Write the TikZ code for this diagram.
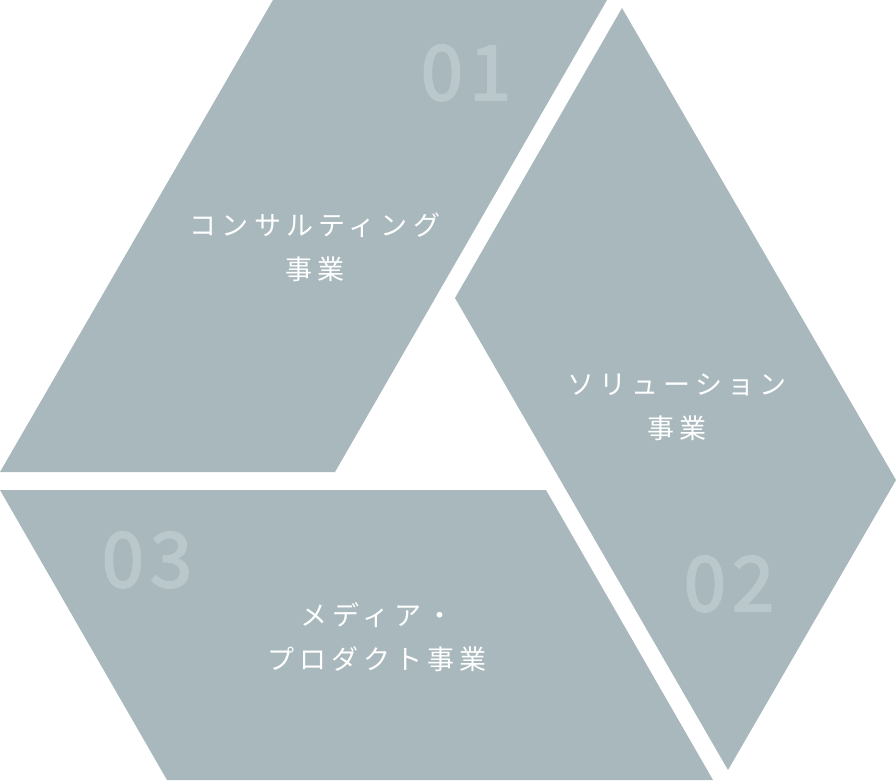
\documentclass[tikz,border=0pt]{standalone}
\usepackage{fontspec}
\newfontfamily\jpfont[LetterSpace=19]{Noto Sans CJK JP}
\newfontfamily\numfont[FakeBold=2.5,LetterSpace=8]{Noto Sans CJK JP}
\definecolor{panel}{HTML}{A8B8BC}
\definecolor{numc}{HTML}{BAC8CB}
\begin{document}
\begin{tikzpicture}[x=1pt,y=-1pt,
  panelst/.style={fill=panel,draw=none},
  lab/.style={text=white,align=center,inner sep=0pt,font=\jpfont\fontsize{27}{44}\selectfont},
  numst/.style={text=numc,anchor=base,inner sep=0pt,font=\numfont\fontsize{76}{76}\selectfont}]
\useasboundingbox (0,0) rectangle (896,780);
\fill[panelst] (273,0) -- (607,0) -- (335,472) -- (0,472) -- cycle;
\fill[panelst] (622,8) -- (896,480) -- (728,770) -- (455,298) -- cycle;
\fill[panelst] (0,490) -- (546,490) -- (713,780) -- (167,780) -- cycle;
\node[numst] (n1) at (466,100) {01};
\node[numst] (n2) at (729,611) {02};
\node[numst] (n3) at (147,587) {03};
\node[lab] (t1) at (315,247) {コンサルティング\\事業};
\node[lab] (t2) at (677,407) {ソリューション\\事業};
\node[lab] (t3) at (377,637) {メディア・\\プロダクト事業};
\end{tikzpicture}
\end{document}
